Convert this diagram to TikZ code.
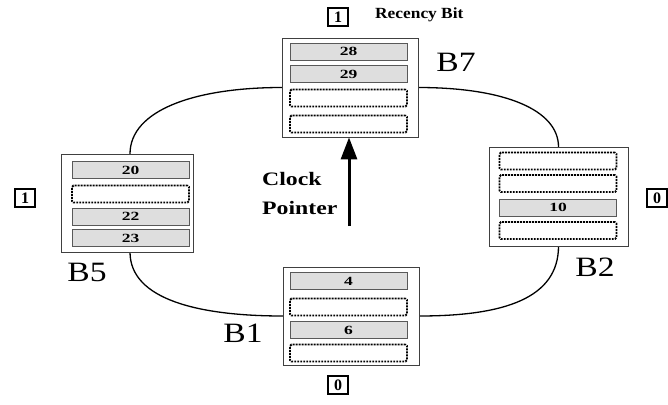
\documentclass[tikz,border=0pt]{standalone}
\usepackage{fontspec}
\setmainfont{Liberation Serif}
\usetikzlibrary{arrows.meta}
\newcommand{\wide}[2][1.35]{\scalebox{#1}[1]{#2}}
\tikzset{
  block/.style={draw=black!75, line width=0.8pt, fill=white, inner sep=0pt},
  fullslot/.style={draw=black!65, line width=0.9pt, fill=black!13, inner sep=0pt,
    minimum width=117pt, minimum height=17pt,
    font=\fontsize{12.5}{14}\selectfont\bfseries},
  emptyslot/.style={draw=black, line width=1.9pt, dash pattern=on 1.9pt off 1.1pt,
    rounded corners=1.5pt, inner sep=0pt, minimum width=117pt, minimum height=17pt},
  bitbox/.style={draw=black, line width=1.3pt, inner sep=0pt, minimum width=20pt,
    minimum height=18pt, font=\fontsize{16}{18}\selectfont\bfseries},
  blabel/.style={font=\fontsize{28}{30}\selectfont, inner sep=0pt},
  ring/.style={line width=1.3pt, black},
  boldlabel/.style={font=\fontsize{19}{22}\selectfont\bfseries, inner sep=0pt, anchor=west}
}
\begin{document}
\begin{tikzpicture}[x=1pt, y=-1pt]
\useasboundingbox (0,0) rectangle (668,404);

% ring connecting the four blocks
\coordinate (b5top) at (130,154);
\coordinate (b5bot) at (130,252);
\draw[ring] (282,87.5) .. controls (195,87.5) and (130,110) .. (b5top);
\draw[ring] (b5bot) .. controls (130,300) and (200,316) .. (283,316);
\draw[ring] (418,87.5) .. controls (505,87.5) and (558.5,110) .. (558.5,147);
\draw[ring] (558.5,246) .. controls (558.5,298) and (505,316) .. (419,316);

% blocks
\node[block, minimum width=136pt, minimum height=99pt] (B7) at (350,87.5) {};
\node[block, minimum width=132pt, minimum height=98pt] (B5) at (127,203) {};
\node[block, minimum width=139pt, minimum height=99pt] (B2) at (558.5,196.5) {};
\node[block, minimum width=136pt, minimum height=98pt] (B1) at (351,316) {};

% B7 slots
\node[fullslot] (b7a) at (348.5,51.5) {\wide[1.4]{28}};
\node[fullslot] (b7b) at (348.5,74) {\wide[1.4]{29}};
\node[emptyslot] (b7c) at (348.5,98) {};
\node[emptyslot] (b7d) at (348.5,124) {};

% B5 slots
\node[fullslot] (b5a) at (130.5,170) {\wide[1.4]{20}};
\node[emptyslot] (b5b) at (130.5,194) {};
\node[fullslot] (b5c) at (130.5,216.5) {\wide[1.4]{22}};
\node[fullslot] (b5d) at (130.5,238) {\wide[1.4]{23}};

% B2 slots
\node[emptyslot] (b2a) at (558,161) {};
\node[emptyslot] (b2b) at (558,183.5) {};
\node[fullslot] (b2c) at (558,207.5) {\wide[1.4]{10}};
\node[emptyslot] (b2d) at (558,230.5) {};

% B1 slots
\node[fullslot] (b1a) at (348.5,281) {\wide[1.4]{4}};
\node[emptyslot] (b1b) at (348.5,307) {};
\node[fullslot] (b1c) at (348.5,330) {\wide[1.4]{6}};
\node[emptyslot] (b1d) at (348.5,353) {};

% block labels
\node[blabel] (lb7) at (456,62) {\wide[1.2]{B7}};
\node[blabel] (lb5) at (87,272) {\wide[1.2]{B5}};
\node[blabel] (lb2) at (595,267) {\wide[1.2]{B2}};
\node[blabel] (lb1) at (243,333) {\wide[1.2]{B1}};

% recency bits
\node[bitbox] (r7) at (338,17) {1};
\node[bitbox] (r5) at (25,198) {1};
\node[bitbox] (r2) at (657,198) {0};
\node[bitbox] (r1) at (338,385) {0};
\node[boldlabel, font=\fontsize{15.5}{18}\selectfont\bfseries] (rb) at (375,15) {\wide[1.12]{Recency Bit}};

% clock pointer
\node[boldlabel] (clk) at (262,179) {\wide[1.25]{Clock}};
\node[boldlabel] (ptrtxt) at (262,208) {\wide[1.25]{Pointer}};
\coordinate (ptr) at (349,226);
\draw[line width=3pt, -{Triangle[length=22pt, width=16pt]}] (ptr) -- (B7.south -| ptr);
\end{tikzpicture}
\end{document}
